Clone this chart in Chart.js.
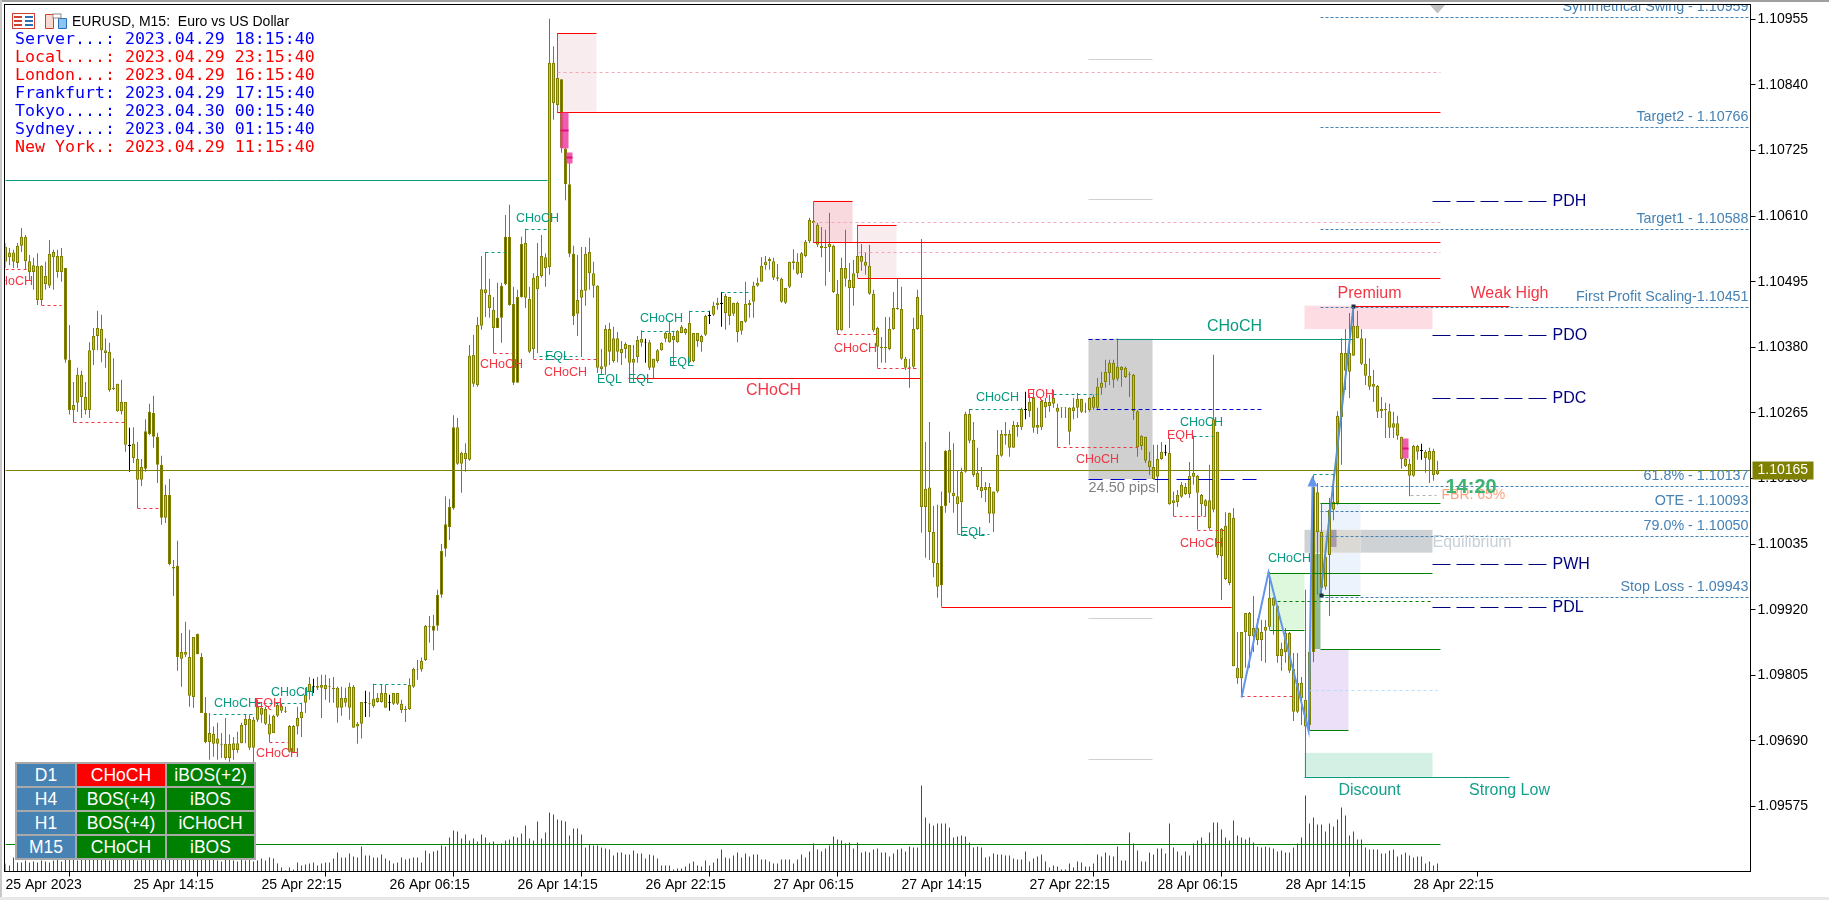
<!DOCTYPE html>
<html>
<head>
<meta charset="utf-8">
<title>EURUSD M15</title>
<script src="https://cdn.jsdelivr.net/npm/chart.js@4"></script>
<style>
  html, body { margin: 0; padding: 0; background: #fff; overflow: hidden; }
  #wrap { position: relative; width: 1829px; height: 900px; }
  canvas { position: absolute; left: 0; top: 0; }
  .edge { position: absolute; }
  #head { position: absolute; left: 72px; top: 13px; font: 14px 'Liberation Sans'; color: #000; white-space: pre; }
  #icons { position: absolute; left: 12px; top: 13px; }
  #clock { position: absolute; left: 15px; top: 30px; font: 16.6px/18px 'DejaVu Sans Mono'; white-space: pre; }
  #state { position: absolute; left: 15px; top: 762px; border-collapse: separate; border-spacing: 2px; background: #a9a9a9; font: 17.5px 'Liberation Sans'; color: #fff; text-align: center; }
  #state td { height: 22px; padding: 0; line-height: 22px; }
</style>
</head>
<body>
<div id="wrap">
  <canvas id="chart" width="1829" height="900"></canvas>
  <div class="edge" style="left:0;top:0;width:1829px;height:2px;background:#a0a0a0"></div>
  <div class="edge" style="left:0;top:0;width:2px;height:900px;background:#c8c8c8"></div>
  <div class="edge" style="left:0;top:897px;width:1829px;height:3px;background:#e8e8e8"></div>
  <svg id="icons" width="56" height="16">
    <rect x="0.5" y="0.5" width="22" height="15" fill="#fff" stroke="#d04030"/>
    <path d="M2 4h8M2 8h8M2 12h8" stroke="#d04030" stroke-width="2"/>
    <path d="M13 4h8M13 8h8M13 12h8" stroke="#2a70b8" stroke-width="2"/>
    <path d="M33.5 1.5h8v14h-8z" fill="#f8d8d0" stroke="#d04030"/>
    <path d="M46.5 5.5h8v10h-8z" fill="#8cc4f0" stroke="#2a70b8"/>
    <rect x="41" y="1" width="8" height="4" fill="#fff" stroke="#888"/>
  </svg>
  <div id="head">EURUSD, M15:  Euro vs US Dollar</div>
  <div id="clock"></div>
  <table id="state"></table>
</div>
<script>
// prices below are points above 1.09000
const BASE = 1.09;
const POINT = 0.00001;

const highs = [
  1563,1554,1551,1563,1589,1577,1542,1537,1545,1524,
  1530,1568,1551,1551,1554,1519,1419,1319,1344,1339,
  1319,1389,1414,1444,1437,1396,1388,1361,1316,1323,
  1284,1239,1240,1214,1184,1254,1281,1295,1230,1190,
  1139,1149,1007,1041,879,899,885,872,878,844,
  767,739,715,722,704,730,701,697,706,722,
  736,736,732,762,758,750,736,736,757,755,
  750,718,718,750,757,783,802,799,802,806,
  806,800,802,785,785,783,792,788,723,758,
  778,776,790,774,788,788,771,774,774,762,
  751,800,818,832,836,893,909,911,955,1035,
  1119,1114,1261,1256,1197,1212,1384,1402,1433,1540,
  1547,1500,1468,1493,1493,1612,1630,1486,1481,1574,
  1588,1486,1510,1563,1577,1545,1956,1908,1931,1850,
  1730,1703,1558,1542,1556,1556,1572,1530,1489,1377,
  1419,1423,1416,1407,1391,1389,1384,1384,1400,1410,
  1395,1393,1360,1377,1389,1407,1425,1407,1410,1419,
  1414,1444,1405,1405,1402,1437,1444,1460,1467,1477,
  1474,1468,1458,1460,1426,1495,1463,1495,1502,1538,
  1540,1538,1537,1526,1502,1484,1530,1552,1545,1547,
  1568,1607,1635,1598,1591,1586,1616,1560,1498,1537,
  1586,1528,1533,1595,1561,1547,1560,1481,1416,1398,
  1433,1433,1477,1500,1486,1363,1360,1432,1481,1570,
  1214,1249,1102,1104,1127,1200,1232,1212,1165,1169,
  1267,1272,1249,1204,1170,1144,1142,1127,1235,1235,
  1249,1235,1251,1249,1274,1302,1297,1305,1274,1288,
  1291,1297,1305,1281,1275,1275,1275,1291,1300,1290,
  1283,1293,1297,1326,1337,1358,1358,1358,1395,1347,
  1346,1337,1333,1270,1226,1223,1197,1209,1209,1214,
  1209,1221,1127,1130,1144,1142,1179,1225,1156,1123,
  1114,1174,1367,1232,1063,1091,1090,1098,881,881,
  914,916,944,904,902,902,986,942,928,862,
  888,881,844,844,802,955,853,1156,1142,1107,
  1030,1116,1158,1268,1396,1412,1440,1453,1444,1412,
  1396,1361,1340,1314,1293,1283,1281,1267,1260,1223,
  1186,1184,1209,1209,1211,1200,1204,1202,1181
];
const bodyTops = [
  1556,1546,1546,1558,1574,1574,1531,1524,1523,1523,
  1505,1544,1547,1540,1540,1519,1358,1279,1332,1332,
  1293,1375,1400,1414,1412,1375,1372,1309,1316,1284,
  1284,1209,1211,1184,1170,1233,1267,1265,1223,1174,
  1121,1121,995,997,846,846,837,872,878,837,
  739,704,702,694,685,685,685,686,686,718,
  729,729,727,750,748,746,720,734,753,751,
  743,716,716,730,741,771,790,786,786,788,
  788,786,783,783,765,765,785,785,720,758,
  758,757,764,765,774,774,758,774,774,755,
  746,788,816,816,830,892,892,892,946,1023,
  1070,1100,1240,1240,1195,1195,1365,1367,1419,1482,
  1482,1472,1446,1432,1488,1574,1574,1456,1468,1561,
  1563,1465,1502,1505,1540,1538,1879,1879,1852,1850,
  1728,1666,1544,1463,1481,1544,1547,1510,1488,1347,
  1412,1412,1396,1396,1377,1386,1384,1360,1393,1395,
  1389,1389,1360,1375,1388,1405,1405,1400,1409,1416,
  1412,1423,1405,1405,1400,1435,1437,1453,1458,1458,
  1470,1468,1458,1458,1426,1456,1458,1488,1493,1523,
  1530,1535,1531,1503,1500,1484,1530,1531,1530,1545,
  1565,1603,1602,1595,1558,1556,1561,1558,1474,1519,
  1519,1498,1510,1540,1540,1530,1523,1474,1414,1381,
  1381,1412,1449,1449,1447,1360,1346,1412,1468,1437,
  1132,1134,1056,1002,1102,1198,1200,1125,1119,1162,
  1263,1263,1218,1160,1135,1135,1135,1127,1191,1228,
  1228,1228,1244,1244,1272,1272,1284,1291,1244,1286,
  1284,1284,1291,1274,1275,1275,1274,1275,1290,1290,
  1268,1291,1293,1311,1318,1337,1353,1353,1346,1346,
  1344,1333,1332,1268,1225,1223,1181,1170,1184,1197,
  1197,1195,1112,1121,1139,1135,1155,1160,1155,1121,
  1112,1112,1254,1232,1062,1067,1090,1081,818,881,
  914,914,888,888,881,890,941,941,927,851,
  879,879,816,792,792,762,846,1135,1126,1056,
  1013,1095,1109,1260,1370,1370,1370,1418,1418,1396,
  1351,1330,1316,1312,1272,1272,1268,1247,1247,1223,
  1184,1176,1207,1207,1200,1197,1198,1198,1165
];
const bodyBottoms = [
  1530,1538,1530,1528,1558,1531,1512,1512,1463,1463,
  1491,1488,1538,1512,1512,1358,1270,1270,1283,1293,
  1270,1270,1375,1400,1375,1370,1305,1307,1268,1268,
  1209,1207,1186,1148,1148,1167,1228,1223,1174,1081,
  1081,1000,992,837,834,841,769,767,842,739,
  688,688,685,685,683,660,660,674,674,686,
  718,678,678,727,736,720,701,704,734,743,
  741,671,669,715,730,757,776,785,783,783,
  781,785,781,748,748,757,748,713,715,720,
  757,755,751,758,758,748,757,755,755,744,
  744,746,785,815,815,832,890,883,892,946,
  1027,1065,1098,1176,1176,1184,1183,1316,1314,1418,
  1475,1449,1414,1414,1432,1491,1454,1318,1318,1468,
  1467,1372,1377,1482,1505,1519,1521,1808,1805,1730,
  1666,1544,1435,1439,1467,1479,1510,1488,1344,1342,
  1346,1372,1356,1372,1370,1377,1353,1353,1363,1388,
  1388,1344,1344,1356,1375,1395,1389,1393,1389,1405,
  1405,1354,1356,1391,1389,1402,1435,1437,1454,1456,
  1440,1435,1439,1407,1409,1425,1454,1460,1488,1495,
  1524,1531,1502,1500,1460,1458,1486,1528,1509,1510,
  1540,1566,1598,1560,1554,1554,1556,1477,1410,1410,
  1500,1484,1484,1510,1530,1523,1474,1410,1381,1379,
  1379,1377,1412,1447,1360,1344,1344,1346,1412,1100,
  1100,1056,1002,960,963,1102,1125,1119,1105,1109,
  1162,1216,1156,1135,1128,1130,1088,1088,1127,1190,
  1225,1204,1204,1240,1240,1270,1268,1239,1239,1240,
  1275,1277,1281,1267,1274,1274,1232,1268,1274,1267,
  1267,1270,1274,1274,1309,1319,1335,1323,1325,1340,
  1328,1332,1268,1205,1207,1181,1170,1149,1153,1184,
  1195,1105,1107,1109,1118,1123,1123,1153,1125,1105,
  1102,1063,1095,1016,1014,974,967,821,800,800,
  881,874,874,867,867,883,890,927,839,839,
  846,813,741,741,765,715,718,846,1056,958,
  960,1016,1095,1107,1258,1339,1337,1365,1396,1351,
  1330,1311,1311,1267,1268,1270,1239,1239,1225,1184,
  1172,1155,1155,1197,1198,1186,1183,1156,1158
];
const lows = [
  1519,1524,1519,1519,1547,1516,1498,1481,1454,1454,
  1481,1484,1481,1502,1495,1353,1262,1249,1267,1256,
  1262,1256,1349,1375,1354,1344,1302,1305,1267,1262,
  1197,1162,1177,1098,1137,1162,1226,1204,1142,1069,
  1072,998,944,813,785,837,750,748,842,739,
  686,657,662,657,660,657,651,657,669,686,
  686,674,651,723,722,718,688,704,732,739,
  739,669,669,701,697,739,762,774,779,730,
  762,757,757,722,734,750,727,713,685,694,
  732,732,748,757,757,748,743,753,753,739,
  723,744,783,797,811,830,862,849,883,941,
  1013,1042,1095,1174,1125,1162,1181,1311,1311,1411,
  1433,1432,1370,1414,1388,1489,1453,1314,1318,1467,
  1449,1370,1360,1370,1502,1486,1507,1779,1791,1721,
  1638,1538,1419,1400,1363,1453,1481,1467,1335,1332,
  1332,1349,1353,1354,1349,1361,1326,1319,1353,1381,
  1353,1340,1326,1353,1374,1389,1388,1349,1388,1405,
  1402,1353,1354,1381,1372,1400,1421,1435,1446,1416,
  1411,1419,1435,1389,1402,1423,1432,1432,1486,1495,
  1516,1516,1498,1496,1458,1456,1484,1516,1507,1502,
  1538,1563,1563,1556,1538,1488,1512,1475,1403,1409,
  1486,1414,1453,1502,1514,1507,1472,1407,1344,1353,
  1353,1375,1411,1446,1358,1340,1309,1342,1411,1055,
  1011,1007,977,941,925,1090,1107,1090,1053,1063,
  1160,1212,1153,1130,1116,1109,1072,1056,1125,1188,
  1209,1188,1204,1223,1235,1254,1258,1230,1228,1235,
  1256,1267,1274,1205,1256,1256,1209,1254,1256,1265,
  1265,1267,1270,1272,1297,1309,1314,1309,1321,1311,
  1326,1293,1253,1188,1200,1177,1156,1148,1125,1183,
  1190,1104,1084,1100,1116,1121,1116,1139,1060,1084,
  1083,1060,1091,1011,937,972,963,821,790,769,
  818,818,846,858,830,827,885,876,827,813,
  827,809,725,739,718,625,709,828,946,944,
  955,909,1077,1104,1174,1305,1291,1365,1396,1349,
  1314,1305,1284,1256,1256,1221,1221,1221,1218,1167,
  1170,1119,1153,1183,1183,1160,1142,1146,1156
];
// tick volume, arbitrary units
const volumes = [
  8,6,14,9,9,11,9,10,9,11,
  10,9,11,12,10,13,16,14,11,12,
  13,15,18,16,14,12,11,13,15,14,
  17,16,12,11,13,15,18,20,22,19,
  17,21,24,20,18,16,15,17,14,13,
  12,16,14,11,10,12,13,11,10,12,
  11,13,10,
  11,13,11,14,13,8,4,1,4,2,
  9,6,7,8,9,6,8,9,9,13,
  19,14,14,18,15,14,25,16,16,14,
  14,17,13,11,8,9,14,12,13,14,
  14,9,21,18,20,21,26,25,34,41,
  40,33,37,31,33,30,37,34,29,30,
  27,28,31,32,35,34,38,46,33,31,
  50,33,39,59,57,52,51,50,36,43,
  43,37,24,27,26,26,24,23,22,
  16,19,19,17,17,21,18,18,13,17,
  16,13,6,6,6,2,3,3,5,8,
  10,6,5,11,6,9,13,22,14,13,
  16,19,14,18,15,17,17,12,12,10,
  8,8,12,12,12,8,12,17,14,20,
  28,22,20,23,26,35,32,31,28,29,
  23,29,19,20,19,22,23,19,19,15,
  18,22,23,20,25,24,24,86,54,48,
  46,48,48,48,44,34,35,36,35,29,
  24,25,24,14,15,18,17,17,16,16,
  13,12,12,20,10,13,15,17,10,4,
  6,5,2,2,8,4,10,9,5,5,
  8,17,15,19,16,15,25,11,11,39,
  28,21,10,10,19,17,23,23,18,48,
  24,20,16,20,16,28,31,34,28,39,
  49,49,
  42,34,31,51,36,34,32,34,29,25,
  24,25,24,23,20,21,19,19,24,28,
  34,76,48,54,47,47,40,48,45,52,
  64,56,36,40,32,32,24,22,22,22,
  18,18,21,22,15,17,19,16,14,15,
  15,8,10,6,8
];
const redBars = [15,16,37,38,39,41,42,43,48,49,50,126,127,139,140,141,142];
const greenBars = [35,36,107,108,109,110,111,112,123,124,125,128,129,234,235,326,327];
const blackBars = [31,77,90,96,160,176,179,255,290,354];

const timeTicks = [0,32,64,96,128,160,192,224,256,288,320,352];
const timeLabels = ['25 Apr 2023','25 Apr 14:15','25 Apr 22:15','26 Apr 06:15','26 Apr 14:15','26 Apr 22:15','27 Apr 06:15','27 Apr 14:15','27 Apr 22:15','28 Apr 06:15','28 Apr 14:15','28 Apr 22:15'];
const priceTicks = [1.10955,1.10840,1.10725,1.10610,1.10495,1.10380,1.10265,1.10150,1.10035,1.09920,1.09805,1.09690,1.09575];
const lastPrice = 1165;
const volumeAverage = 28;

const clockLabels = ['Server...: 2023.04.29 18:15:40','Local....: 2023.04.29 23:15:40','London...: 2023.04.29 16:15:40','Frankfurt: 2023.04.29 17:15:40','Tokyo....: 2023.04.30 00:15:40','Sydney...: 2023.04.30 01:15:40','New York.: 2023.04.29 11:15:40'];
const clockColors = ['#0000ff','#ff0000','#ff0000','#0000ff','#0000ff','#0000ff','#ff0000'];
const trendFrames = ['D1','H4','H1','M15'];
const trendMajor = ['CHoCH','BOS(+4)','BOS(+4)','CHoCH'];
const trendMinor = ['iBOS(+2)','iBOS','iCHoCH','iBOS'];
const trendMajorColors = ['#ff0000','#008000','#008000','#008000'];

// [from bar, to bar, points]
const redDashes = [[0,5.5,1517],[9,14,1454],[17,30,1249],[33,39,1098],[66,71,688],[122,127,1370],[132,148,1360],[208,218,1403],[218,228.5,1344],[263,283,1205],[292,300,1084],[298,305,1060],[309,322,769]];
const tealDashes = [[130,135.5,1588],[120,125,1547],[52,62,737],[63,74,757],[92,101,790],[159,168,1409],[171,176,1444],[179,186,1477],[241,254,1272],[262,273,1298],[297,302,1225],[327,332,1158],[133.5,143,1365],[238,246,1053]];
const redLines = [[155.75,228.75,1326],[234,306.5,925],[138,147.75,1931],[138,358.75,1793],[202,211.75,1637],[202,358.75,1565],[213,222.75,1595],[213,358.75,1502],[337,376,1453]];
const tealLines = [[0,135.5,1673],[278,337,1395],[324.75,376,627]];
const pinkDashes = [[138,358.75,1863],[202,358.75,1600],[213,358.75,1547]];
const greenLines = [[328.75,358.75,1107],[316,356.75,985],[316,324.75,885],[328.75,338.75,946],[328.75,358.75,851],[326,335.75,709]];
const shortGreyLines = [[270.75,286.75,1886],[270.75,286.75,1640],[270.75,286.75,906],[270.75,286.75,658]];
const blueDashes = [[272.75,314.75,1272],[270.75,278,1395]];
const blueLongDashes = [[270.75,314.75,1149]];

// [from bar, to bar, top points, bottom points]; later colours paint over earlier ones
const zones = {
  '#f8ecee': [[138,147.75,1931,1793],[213,222.75,1595,1502]],
  '#f7d9de': [[202,211.75,1637,1565]],
  '#d0d0d0': [[270.75,286.75,1395,1149]],
  '#fddde3': [[324.75,356.75,1453,1412]],
  '#d4f0e4': [[324.75,356.75,669,627]],
  '#edf3fd': [[328.75,338.75,1107,946]],
  '#ddf8dd': [[316,324.75,985,885]],
  '#8fbc8f': [[326.5,328.75,1018,851]],
  '#ece0f9': [[326,335.75,851,709]],
  '#ced2d4': [[324.75,328.75,1060,1020],[338.75,356.75,1060,1020]],
  '#dbd9d3': [[328.75,338.75,1060,1020]],
  '#a89aa8': [[331.25,332.75,1060,1030]]
};
const pinkBlocks = [[138.75,140.75,1793,1730,1761],[140.25,141.75,1723,1703,1714],[349.25,350.75,1221,1186,1204]];

const fibPrices = [1959,1766,1588,1451,1137,1093,1050,943];
const fibNames = ['Symmetrical Swing - 1.10959','Target2 - 1.10766','Target1 - 1.10588','First Profit Scaling-1.10451','61.8% - 1.10137','OTE - 1.10093','79.0% - 1.10050','Stop Loss - 1.09943'];
const dayPrices = [1637,1402,1291,1000,925];
const dayNames = ['PDH','PDO','PDC','PWH','PDL'];
// [bar, points]
const smallChochRed = [[1.5,1496],[68,669],[124,1351],[140,1337],[212.5,1379],[273,1184],[299,1037]];
const smallChochTeal = [[133,1607],[57.5,757],[71.75,776],[164,1432],[248,1293],[299,1249],[321,1011]];
const eqlLabels = [[138,1365],[151,1325],[158.75,1325],[169,1354],[241.75,1056]];
const eqhLabels = [[65.75,757],[258.75,1298],[293.75,1226]];
const zigzagA = [[309,767],[315.75,986],[325.75,709],[326.75,1137]];
const zigzagB = [[328.75,946],[337,1453]];

const toPrice = p => BASE + p * POINT;
// the axes must not reserve room for half of their first and last labels
const noLabelPadding = s => { s.paddingLeft = s.paddingRight = s.paddingTop = s.paddingBottom = 0; };

document.getElementById('clock').innerHTML = clockLabels.map((t, i) => '<div style="color:' + clockColors[i] + '">' + t + '</div>').join('');
document.getElementById('state').innerHTML = trendFrames.map((f, i) =>
  '<tr><td style="width:58px;background:#4682b4">' + f + '</td>' +
  '<td style="width:88px;background:' + trendMajorColors[i] + '">' + trendMajor[i] + '</td>' +
  '<td style="width:87px;background:#008000">' + trendMinor[i] + '</td></tr>').join('');

const barX = highs.map((_, i) => i);
const bodyFill = barX.map(i => redBars.includes(i) ? '#ff2000' : greenBars.includes(i) ? '#008000' : blackBars.includes(i) ? '#000' : '#b4b4a4');
const edgeColor = barX.map(i => blackBars.includes(i) ? '#000' : '#808000');

const overlay = {
  id: 'overlay',
  beforeDatasetsDraw(chart) {
    const ctx = chart.ctx, a = chart.chartArea, sx = chart.scales.x, sy = chart.scales.y;
    ctx.save();
    ctx.beginPath(); ctx.rect(a.left, a.top, a.width, a.height); ctx.clip();
    Object.keys(zones).forEach(color => {
      ctx.fillStyle = color;
      zones[color].forEach(z => {
        const x0 = sx.getPixelForValue(z[0]), x1 = sx.getPixelForValue(z[1]);
        const y0 = sy.getPixelForValue(toPrice(z[2])), y1 = sy.getPixelForValue(toPrice(z[3]));
        ctx.fillRect(x0, y0, x1 - x0, y1 - y0);
      });
    });
    ctx.restore();
  },
  afterDatasetsDraw(chart) {
    const ctx = chart.ctx, a = chart.chartArea, sx = chart.scales.x, sy = chart.scales.y, sv = chart.scales.vol;
    const px = v => sx.getPixelForValue(v);
    const py = p => Math.round(sy.getPixelForValue(toPrice(p))) + 0.5;
    const seg = (x0, x1, y, color, dash, w) => {
      ctx.strokeStyle = color; ctx.lineWidth = w || 1; ctx.setLineDash(dash || []);
      ctx.beginPath(); ctx.moveTo(px(x0), y); ctx.lineTo(px(x1), y); ctx.stroke();
    };
    const label = (t, x, y, color, font, align) => {
      ctx.fillStyle = color; ctx.font = font; ctx.textAlign = align || 'center'; ctx.textBaseline = 'middle';
      ctx.fillText(t, x, y);
    };
    const FONT = "'Liberation Sans'";

    ctx.save();
    ctx.beginPath(); ctx.rect(a.left, a.top, a.width, a.height); ctx.clip();

    pinkDashes.forEach(s => seg(s[0], s[1], py(s[2]), '#f4a8b4', [3, 3]));
    seg(0, 436.25, py(lastPrice), '#808000');
    seg(0, 358.75, Math.round(sv.getPixelForValue(volumeAverage)) + 0.5, '#008000');
    redLines.forEach(s => seg(s[0], s[1], py(s[2]), '#ff0000'));
    redDashes.forEach(s => seg(s[0], s[1], py(s[2]), '#f23645', [3, 3]));
    tealDashes.forEach(s => seg(s[0], s[1], py(s[2]), '#089981', [3, 3]));
    tealLines.forEach(s => seg(s[0], s[1], py(s[2]), '#089981'));
    greenLines.forEach(s => seg(s[0], s[1], py(s[2]), '#008000'));
    shortGreyLines.forEach(s => seg(s[0], s[1], py(s[2]), '#d0d0d0'));
    blueDashes.forEach(s => seg(s[0], s[1], py(s[2]), '#0000cc', [4, 3]));
    blueLongDashes.forEach(s => seg(s[0], s[1], py(s[2]), '#0000cc', [14, 8]));
    seg(318, 356.75, py(935), '#008000', [3, 3]);
    seg(326, 358, py(779), '#b5dcff', [3, 3]);
    seg(351.25, 357.75, py(1121), '#b0b0b0', [3, 3]);

    // moving blocks on top of the candles
    pinkBlocks.forEach(b => {
      const x0 = px(b[0]), x1 = px(b[1]), y0 = py(b[2]), y1 = py(b[3]);
      ctx.fillStyle = 'rgba(240,64,160,0.85)';
      ctx.fillRect(x0, y0, x1 - x0, y1 - y0);
      ctx.fillStyle = '#e0107a';
      ctx.fillRect(x0, py(b[4]) - 1, x1 - x0, 2);
    });

    // swing zigzags and their arrow
    const zig = (pts, color) => {
      ctx.strokeStyle = color; ctx.lineWidth = 2; ctx.setLineDash([]);
      ctx.beginPath();
      pts.forEach((p, i) => i ? ctx.lineTo(px(p[0]), py(p[1])) : ctx.moveTo(px(p[0]), py(p[1])));
      ctx.stroke();
    };
    zig(zigzagA, '#6495ed');
    zig(zigzagB, '#5b8fc7');
    const tip = zigzagA[zigzagA.length - 1];
    ctx.fillStyle = '#6495ed';
    ctx.beginPath();
    ctx.moveTo(px(tip[0]), py(tip[1]) - 11);
    ctx.lineTo(px(tip[0]) + 5, py(tip[1]));
    ctx.lineTo(px(tip[0]) - 5, py(tip[1]));
    ctx.fill();
    ctx.fillStyle = '#203040';
    ctx.fillRect(px(337) - 2, py(1453) - 2, 4, 4);
    ctx.fillRect(px(329) - 2, py(946) - 2, 4, 4);

    // grey marker at the top
    ctx.fillStyle = '#c0c0c0';
    ctx.beginPath();
    ctx.moveTo(px(358) - 8, a.top);
    ctx.lineTo(px(358) + 8, a.top);
    ctx.lineTo(px(358), a.top + 9);
    ctx.fill();

    // fib levels
    fibPrices.forEach((p, i) => {
      seg(328.75, 436.25, py(p), '#4682b4', [3, 2]);
      label(fibNames[i], a.right - 2, py(p) - 10, '#4682b4', '14.3px ' + FONT, 'right');
    });
    // previous day and week levels
    dayPrices.forEach((p, i) => {
      seg(356.75, 385.25, py(p), '#000080', [18, 6]);
      label(dayNames[i], px(386.75), py(p), '#000080', '16px ' + FONT, 'left');
    });

    smallChochRed.forEach(l => label('CHoCH', px(l[0]), py(l[1]), '#f23645', '12.5px ' + FONT));
    smallChochTeal.forEach(l => label('CHoCH', px(l[0]), py(l[1]), '#089981', '12.5px ' + FONT));
    eqlLabels.forEach(l => label('EQL', px(l[0]), py(l[1]), '#089981', '12.5px ' + FONT));
    eqhLabels.forEach(l => label('EQH', px(l[0]), py(l[1]), '#f23645', '12.5px ' + FONT));

    label('CHoCH', px(192), py(1305), '#f23645', '16px ' + FONT);
    label('CHoCH', px(307.25), py(1417), '#089981', '16px ' + FONT);
    label('Premium', px(341), py(1475), '#f23645', '16px ' + FONT);
    label('Weak High', px(376), py(1475), '#f23645', '16px ' + FONT);
    label('Discount', px(341), py(604), '#14a08a', '16px ' + FONT);
    label('Strong Low', px(376), py(604), '#14a08a', '16px ' + FONT);
    label('Equilibrium', px(356.75), py(1039), '#c8d0d8', '16px ' + FONT, 'left');
    label('24.50 pips', px(270.75), py(1135), '#808080', '14.5px ' + FONT, 'left');
    label('FBR: 65%', px(359), py(1121), '#ffa07a', '14px ' + FONT, 'left');
    label('14:20', px(360), py(1135), '#3cb371', 'bold 20px ' + FONT, 'left');
    ctx.restore();

    // frame
    ctx.save();
    ctx.strokeStyle = '#000'; ctx.lineWidth = 1; ctx.setLineDash([]);
    ctx.strokeRect(a.left - 1, a.top, a.width + 1, a.height);
    // last price tag
    const ty = py(lastPrice);
    ctx.fillStyle = '#808000';
    ctx.fillRect(a.right + 2, ty - 9, 61, 18);
    label('1.10165', a.right + 7, ty, '#fff', '14px ' + FONT, 'left');
    ctx.restore();
  }
};

new Chart(document.getElementById('chart'), {
  type: 'bar',
  data: {
    datasets: [
      {
        label: 'body',
        data: barX.map(i => ({ x: i, y: [toPrice(bodyBottoms[i]), toPrice(bodyTops[i])] })),
        yAxisID: 'y',
        barThickness: 3,
        backgroundColor: bodyFill,
        borderColor: edgeColor,
        borderWidth: 1,
        borderSkipped: false,
        inflateAmount: 0,
        grouped: false,
        order: 0
      },
      {
        label: 'wick',
        data: barX.map(i => ({ x: i, y: [toPrice(lows[i]), toPrice(highs[i])] })),
        yAxisID: 'y',
        barThickness: 1,
        backgroundColor: edgeColor,
        inflateAmount: 0,
        grouped: false,
        order: 1
      },
      {
        label: 'volume',
        data: barX.map(i => ({ x: i, y: volumes[i] })),
        yAxisID: 'vol',
        barThickness: 1,
        backgroundColor: '#008000',
        inflateAmount: 0,
        grouped: false,
        order: 2
      }
    ]
  },
  options: {
    responsive: false,
    animation: false,
    layout: { padding: { left: 5.5, top: 4.5, right: 0, bottom: 0 } },
    plugins: { legend: { display: false }, tooltip: { enabled: false } },
    scales: {
      x: {
        type: 'linear',
        min: 0,
        max: 436.25,
        offset: false,
        afterBuildTicks: s => { s.ticks = timeTicks.map(v => ({ value: v })); },
        afterFit: s => { s.height = 28.5; noLabelPadding(s); },
        grid: { drawOnChartArea: false, drawTicks: true, tickLength: 5, tickColor: '#000' },
        border: { display: false },
        ticks: {
          autoSkip: false,
          maxRotation: 0,
          align: 'start',
          padding: 0,
          color: '#000',
          font: { family: 'Liberation Sans', size: 14 },
          callback: (v, i) => timeLabels[i]
        }
      },
      y: {
        position: 'right',
        min: 1.09461,
        max: 1.10981,
        afterBuildTicks: s => { s.ticks = priceTicks.map(v => ({ value: v })); },
        afterFit: s => { s.width = 78.5; noLabelPadding(s); },
        grid: { drawOnChartArea: false, drawTicks: true, tickLength: 5, tickColor: '#000' },
        border: { display: false },
        ticks: {
          autoSkip: false,
          padding: 2,
          color: '#000',
          font: { family: 'Liberation Sans', size: 14 },
          callback: v => v.toFixed(5)
        }
      },
      vol: { display: false, min: 0, max: 867 }
    }
  },
  plugins: [overlay]
});
</script>
</body>
</html>
